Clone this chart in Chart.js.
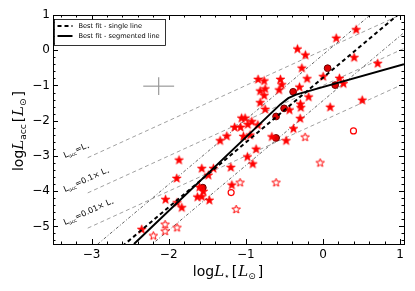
<!DOCTYPE html>
<html><head><meta charset="utf-8">
<script src="https://cdn.jsdelivr.net/npm/chart.js@4.4.0/dist/chart.umd.min.js"></script>
<style>html,body{margin:0;padding:0;background:#fff}</style>
</head><body>
<canvas id="c" width="415" height="291" style="width:415px;height:291px;display:block"></canvas>
<script>
// ---------- axis ticks ----------
const xTickValues = [-3, -2, -1, 0, 1];
const yTickValues = [1, 0, -1, -2, -3, -4, -5];
const xLimits = [-3.5, 1.05];
const yLimits = [-5.5, 1];

// ---------- filled stars ----------
const starX = [-1.866,-1.571,-1.486,-1.421,-1.896,-1.602,-1.551,-1.628,-1.571,-1.473,-2.041,-1.892,-1.831,-2.35,
  -1.334,-1.247,-1.032,-0.945,-0.867,-0.98,-0.91,-1.195,-1.182,-0.663,-0.478,
  -0.331,-0.228,-0.274,-0.206,-0.841,-0.763,-0.552,-0.534,-0.569,-0.75,-0.815,-0.763,-0.305,-0.186,
  -0.815,-0.75,-0.435,-0.292,-0.287,-0.296,-1.055,-1.01,-0.923,-0.975,-0.845,-1.146,-1.068,-0.383,
  0.43,0.171,0.404,0.709,0.002,0.213,0.265,0.508,0.093];
const starY = [-3.12,-3.36,-3.55,-3.36,-3.64,-3.89,-4.01,-4.17,-4.16,-4.26,-4.24,-4.33,-4.47,-5.09,
  -2.57,-2.44,-2.45,-2.41,-2.81,-3.03,-3.23,-3.33,-3.83,-2.46,-2.57,
  0.03,-0.14,-0.51,-0.81,-0.83,-0.875,-0.83,-0.98,-1.13,-1.10,-1.16,-1.29,-1.05,-1.33,
  -1.49,-1.68,-1.70,-1.53,-1.63,-1.94,-1.93,-1.93,-2.03,-2.11,-2.125,-2.19,-2.19,-2.23,
  0.58,0.34,-0.21,-0.38,-0.75,-0.80,-0.95,-1.42,-1.62];

// ---------- open stars ----------
const openStarX = [-2.047,-2.047,-1.892,-2.199,-1.075,-0.608,-1.126,-0.232,-0.037];
const openStarY = [-4.95,-5.14,-5.04,-5.27,-3.76,-3.76,-4.52,-2.47,-3.2];

// ---------- filled circles ----------
const dotX = [-1.558,-0.387,-0.504,-0.608,-0.608,0.06,0.158];
const dotY = [-3.90,-1.18,-1.65,-1.88,-2.49,-0.51,-0.99];

// ---------- open circles ----------
const ringX = [-1.191,0.395];
const ringY = [-4.04,-2.29];

// ---------- reference lines ----------
const refLineX = [-3.05, 1.05];
const refLine1Y = [-3.05, 1.05];   // Lacc = L*
const refLine01Y = [-4.05, 0.05];  // Lacc = 0.1 L*
const refLine001Y = [-5.05, -0.95];// Lacc = 0.01 L*

// ---------- fits ----------
const singleFitX = [-2.6, 1.0];
const singleFitY = [-5.56, 1.06];
const upperBandX = [-3.0, 0.65];
const upperBandY = [-5.65, 1.07];
const lowerBandX = [-2.25, 1.05];
const lowerBandY = [-5.57, 0.50];
const segFitX = [-2.45, -0.55, -0.45, -0.35, 1.05];
const segFitY = [-5.5, -1.53, -1.36, -1.26, -0.40];

// ---------- typical error bar ----------
const errCenter = [-2.13, -1.02];
const errHalf = [0.2, 0.25];

const legendLabels = ['Best fit - single line', 'Best fit - segmented line'];
const refLabels = [['=L', ''], ['=0.1\u00d7 L', ''], ['=0.01\u00d7 L', '']];

function pts(xs, ys){ return xs.map((x,i)=>({x:x, y:ys[i]})); }

function makeStar(fill, stroke, lw, R, ratio){
  const s = Math.ceil(2*R + 2*lw + 2);
  const c = document.createElement('canvas'); c.width = s; c.height = s;
  const g = c.getContext('2d'); const cx = s/2, cy = s/2;
  g.beginPath();
  for (let i=0;i<10;i++){
    const r = (i%2) ? R*ratio : R;
    const a = -Math.PI/2 + i*Math.PI/5;
    g.lineTo(cx + r*Math.cos(a), cy + r*Math.sin(a));
  }
  g.closePath(); g.fillStyle = fill; g.fill();
  g.lineWidth = lw; g.strokeStyle = stroke; g.lineJoin='miter'; g.stroke();
  return c;
}
const starImg = makeStar('#ff0000', '#ff0000', 0.6, 4.7, 0.42);
const openStarImg = makeStar('#ffffff', '#ff0000', 1.0, 4.4, 0.42);

function lineDS(xs, ys, color, width, dash, order){
  return {type:'scatter', data: pts(xs, ys), showLine:true, borderColor:color, borderWidth:width,
    borderDash:dash, pointRadius:0, fill:false, order:order, tension:0};
}

const datasets = [
  lineDS(refLineX, refLine1Y, '#a0a0a0', 1, [4,3], 10),
  lineDS(refLineX, refLine01Y, '#a0a0a0', 1, [4,3], 10),
  lineDS(refLineX, refLine001Y, '#a0a0a0', 1, [4,3], 10),
  lineDS(upperBandX, upperBandY, '#555555', 0.9, [3,2,1,2], 9),
  lineDS(lowerBandX, lowerBandY, '#555555', 0.9, [3,2,1,2], 9),
  lineDS([errCenter[0]-errHalf[0], errCenter[0]+errHalf[0]], [errCenter[1], errCenter[1]], '#999999', 1.2, [], 9),
  lineDS([errCenter[0], errCenter[0]], [errCenter[1]-errHalf[1], errCenter[1]+errHalf[1]], '#999999', 1.2, [], 9),
  {type:'scatter', data: pts(starX, starY), pointStyle: starImg, pointRadius:4, order:3},
  {type:'scatter', data: pts(openStarX, openStarY), pointStyle: openStarImg, pointRadius:4, order:3},
  {type:'scatter', data: pts(dotX, dotY), pointStyle:'circle', pointRadius:3.4, backgroundColor:'#dd0000', borderColor:'#6a0000', borderWidth:1, order:3},
  {type:'scatter', data: pts(ringX, ringY), pointStyle:'circle', pointRadius:3, backgroundColor:'#ffffff', borderColor:'#ff0000', borderWidth:1.2, order:3},
  lineDS(singleFitX, singleFitY, '#000000', 2, [4,3], 1),
  lineDS(segFitX, segFitY, '#000000', 2, [], 1),
];

const SANS = '"DejaVu Sans", sans-serif';
const SERIF = '"DejaVu Serif", serif';

function drawRich(ctx, parts, x, y, angle, align){
  ctx.save(); ctx.translate(x, y); ctx.rotate(angle);
  let w = 0;
  parts.forEach(p=>{ ctx.font = p.f; p.w = ctx.measureText(p.t).width + (p.sp||0); w += p.w; });
  let cx = align === 'center' ? -w/2 : 0;
  ctx.textBaseline = 'alphabetic'; ctx.textAlign = 'left'; ctx.fillStyle = '#000';
  parts.forEach(p=>{ ctx.font = p.f; ctx.fillText(p.t, cx, p.dy||0); cx += p.w; });
  ctx.restore();
}

const deco = {
  id: 'deco',
  afterDatasetsDraw(chart){
    const ctx = chart.ctx, a = chart.chartArea;
    const xs = chart.scales.x, ys = chart.scales.y;
    ctx.save();
    ctx.strokeStyle = '#000'; ctx.lineWidth = 1;
    for (let k = -17; k <= 5; k++){
      const v = k/5; if (v < xLimits[0] || v > xLimits[1]) continue;
      const px = Math.round(xs.getPixelForValue(v)) + 0.5;
      const len = (k % 5 === 0) ? 5 : 2.5;
      ctx.beginPath();
      ctx.moveTo(px, a.bottom); ctx.lineTo(px, a.bottom - len);
      ctx.moveTo(px, a.top); ctx.lineTo(px, a.top + len);
      ctx.stroke();
    }
    for (let k = -27; k <= 5; k++){
      const v = k/5; if (v < yLimits[0] || v > yLimits[1]) continue;
      const py = Math.round(ys.getPixelForValue(v)) + 0.5;
      const len = (k % 5 === 0) ? 5 : 2.5;
      ctx.beginPath();
      ctx.moveTo(a.left, py); ctx.lineTo(a.left + len, py);
      ctx.moveTo(a.right, py); ctx.lineTo(a.right - len, py);
      ctx.stroke();
    }
    ctx.strokeRect(Math.round(a.left)+0.5, Math.round(a.top)+0.5, Math.round(a.right-a.left), Math.round(a.bottom-a.top));

    // legend
    const lx = a.left + 1.5, ly = a.top + 4.5, lw = 111, lh = 26;
    ctx.fillStyle = '#fff'; ctx.fillRect(lx, ly, lw, lh);
    ctx.strokeStyle = '#000'; ctx.lineWidth = 0.8; ctx.strokeRect(lx, ly, lw, lh);
    ctx.lineWidth = 2; ctx.strokeStyle = '#000';
    ctx.setLineDash([4,3]); ctx.beginPath(); ctx.moveTo(lx+3, ly+6.5); ctx.lineTo(lx+18, ly+6.5); ctx.stroke();
    ctx.setLineDash([]); ctx.beginPath(); ctx.moveTo(lx+3, ly+16.5); ctx.lineTo(lx+18, ly+16.5); ctx.stroke();
    ctx.fillStyle = '#000'; ctx.font = '6.6px ' + SANS; ctx.textBaseline = 'middle'; ctx.textAlign = 'left';
    ctx.fillText(legendLabels[0], lx+24, ly+7);
    ctx.fillText(legendLabels[1], lx+24, ly+17);
    ctx.restore();
  },
  afterDraw(chart){
    const ctx = chart.ctx;
    const ang = -Math.atan2(chart.scales.y.getPixelForValue(0) - chart.scales.y.getPixelForValue(1),
                            chart.scales.x.getPixelForValue(1) - chart.scales.x.getPixelForValue(0));
    const starts = [[65, 158], [65, 192], [65, 225]];
    refLabels.forEach((lab, i)=>{
      drawRich(ctx, [
        {t:'L', f:'8px ' + SANS},
        {t:'acc', f:'4.8px ' + SANS, dy:1.8},
        {t:lab[0], f:'8px ' + SANS},
        {t:'\u22c6', f:'5.5px ' + SANS, dy:1.8}
      ], starts[i][0], starts[i][1], ang, 'left');
    });
    drawRich(ctx, [
      {t:'log', f:'14px ' + SANS},
      {t:'L', f:'italic 15px ' + SERIF},
      {t:'\u22c6', f:'9px ' + SANS, dy:3, sp:2},
      {t:'[', f:'14px ' + SANS, sp:1},
      {t:'L', f:'italic 15px ' + SERIF},
      {t:'\u2299', f:'9px ' + SANS, dy:3, sp:2},
      {t:']', f:'14px ' + SANS}
    ], 228, 276, 0, 'center');
    drawRich(ctx, [
      {t:'log', f:'14px ' + SANS},
      {t:'L', f:'italic 15px ' + SERIF},
      {t:'acc', f:'9px ' + SANS, dy:3, sp:2},
      {t:'[', f:'14px ' + SANS, sp:1},
      {t:'L', f:'italic 15px ' + SERIF},
      {t:'\u2299', f:'9px ' + SANS, dy:3, sp:2},
      {t:']', f:'14px ' + SANS}
    ], 23, 131, -Math.PI/2, 'center');
  }
};

const fmt = v => String(v).replace('-', '\u2212');

new Chart(document.getElementById('c'), {
  type: 'scatter',
  data: { datasets: datasets },
  options: {
    responsive: false, animation: false, devicePixelRatio: 1,
    layout: { padding: { top: 15, right: 11, left: 0, bottom: 0 } },
    plugins: { legend: { display: false }, tooltip: { enabled: false } },
    scales: {
      x: {
        type: 'linear', min: xLimits[0], max: xLimits[1],
        grid: { display: false, drawTicks: false }, border: { display: false },
        ticks: { font: { family: 'DejaVu Sans', size: 12 }, color: '#000', padding: 4, maxRotation: 0, callback: fmt },
        afterBuildTicks: s => { s.ticks = xTickValues.map(v => ({ value: v })); },
        afterFit: s => { s.height = 47; }
      },
      y: {
        type: 'linear', min: yLimits[0], max: yLimits[1],
        grid: { display: false, drawTicks: false }, border: { display: false },
        ticks: { font: { family: 'DejaVu Sans', size: 12 }, color: '#000', padding: 3, callback: fmt },
        afterBuildTicks: s => { s.ticks = yTickValues.map(v => ({ value: v })); },
        afterFit: s => { s.width = 53; }
      }
    }
  },
  plugins: [deco]
});
</script>
</body></html>
